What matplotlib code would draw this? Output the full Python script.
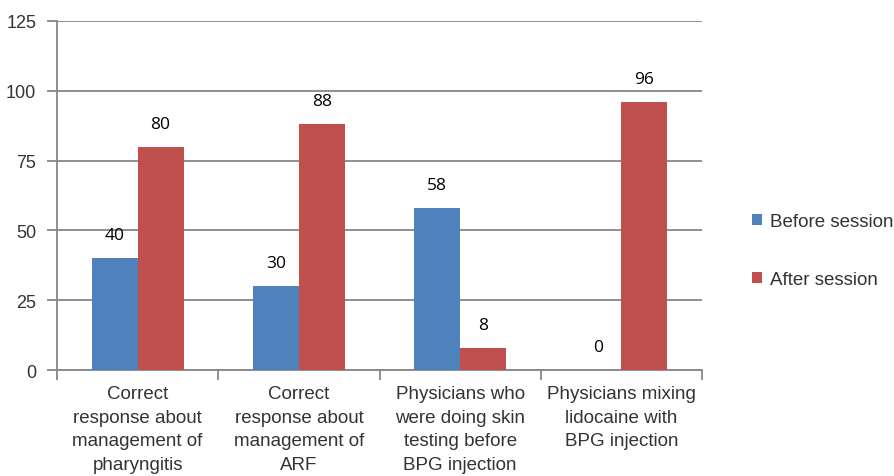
import numpy as np
import matplotlib
matplotlib.use('Agg')
import matplotlib.pyplot as plt

# data
categories = ['Correct\nresponse about\nmanagement of\npharyngitis',
              'Correct\nresponse about\nmanagement of\nARF',
              'Physicians who\nwere doing skin\ntesting before\nBPG injection',
              'Physicians mixing\nlidocaine with\nBPG injection']
before = [40, 30, 58, 0]
after = [80, 88, 8, 96]
series_names = ['Before session', 'After session']
yticks = [0, 25, 50, 75, 100, 125]

blue = '#4F81BD'
red = '#C0504D'
grey = '#878787'
txt = '#333333'

plt.rcParams['font.family'] = ['Liberation Sans', 'DejaVu Sans']

fig = plt.figure(figsize=(8.95, 4.77), dpi=100)
ax = fig.add_axes([0.0637, 0.222, 0.7207, 0.732])

x = np.arange(len(categories))
w = 0.285
b1 = ax.bar(x - w / 2, before, width=w, color=blue, label=series_names[0], zorder=3)
b2 = ax.bar(x + w / 2, after, width=w, color=red, label=series_names[1], zorder=3)

for bars, vals in [(b1, before), (b2, after)]:
    for r, v in zip(bars, vals):
        ax.annotate(str(v), (r.get_x() + r.get_width() / 2, v), xytext=(0, 16.5),
                    textcoords='offset points', ha='center', va='center',
                    fontsize=12.5, color='black', family=['Open Sans', 'DejaVu Sans'])

ax.set_xlim(-0.5, len(categories) - 0.5)
ax.set_ylim(0, 125)
ax.set_yticks(yticks)
ax.set_yticklabels([str(v) for v in yticks], fontsize=13, color=txt)
ax.yaxis.grid(True, color=grey, linewidth=1.3, zorder=0)
ax.set_axisbelow(True)

# category boundaries as tick marks
ax.set_xticks(np.arange(len(categories) + 1) - 0.5)
ax.set_xticklabels([])
ax.set_xticks(x, minor=True)
ax.set_xticklabels(categories, minor=True, fontsize=13.5, color=txt, linespacing=1.5)
ax.tick_params(axis='x', which='minor', length=0, pad=11)
ax.tick_params(axis='x', which='major', length=7, color=grey, width=1.3)
ax.tick_params(axis='y', length=7, color=grey, width=1.3, pad=8)

for s in ['top', 'right']:
    ax.spines[s].set_visible(False)
for s in ['left', 'bottom']:
    ax.spines[s].set_color(grey)
    ax.spines[s].set_linewidth(1.3)

leg = fig.legend(handles=[b1, b2], labels=series_names, loc='upper left',
                 bbox_to_anchor=(0.832, 0.567), frameon=False, fontsize=13.5,
                 handlelength=0.55, handleheight=0.55, handletextpad=0.4,
                 labelspacing=2.2, borderaxespad=0)
for t in leg.get_texts():
    t.set_color(txt)

fig.savefig('out.png', dpi=100)
